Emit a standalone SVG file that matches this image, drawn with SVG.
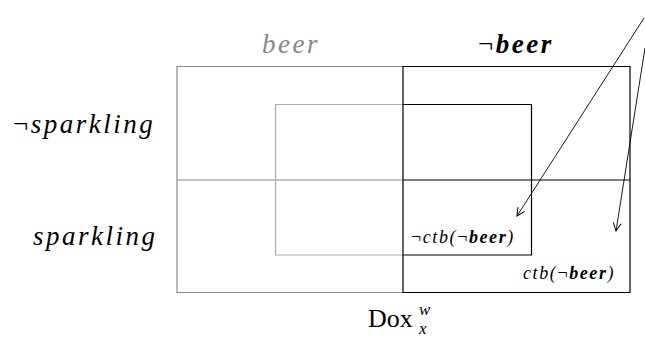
<svg xmlns="http://www.w3.org/2000/svg" width="645" height="339" viewBox="0 0 645 339">
<defs>
<style>
text{font-family:'Liberation Serif','Times New Roman',serif;fill:#000}
.lbl{font-style:italic;font-size:27px;letter-spacing:2.5px}
.sm{font-style:italic;font-size:18px;letter-spacing:1.6px}
.b{font-weight:bold}
.n{font-style:normal}
.g1{stroke:#8a8a8a;fill:none;stroke-width:1.2}
.g2{stroke:#ababab;fill:none;stroke-width:1.2}
.k{stroke:#000;fill:none;stroke-width:1.2}
.arr{stroke:#000;fill:none;stroke-width:0.9;marker-end:url(#ah)}
</style>
<marker id="ah" viewBox="0 0 10 10" refX="9" refY="5" markerWidth="10" markerHeight="10" markerUnits="userSpaceOnUse" orient="auto">
<path d="M1,1 L9,5 L1,9" fill="none" stroke="#000" stroke-width="1"/>
</marker>
</defs>
<rect width="645" height="339" fill="#fff"/>
<g id="region-beer">
<path class="g1" d="M403,66.5 H177 V292.5 H403"/>
<path class="g1" d="M177,180 H403"/>
</g>
<g id="region-inner-beer">
<path class="g2" d="M403,104.5 H275.5 V255 H403"/>
</g>
<g id="region-notbeer">
<path class="k" d="M403,66.5 H630 V292.5 H403 Z"/>
<path class="k" d="M403,180 H630" stroke-width="1.8"/>
</g>
<g id="region-inner-notbeer">
<path class="k" d="M403,104.5 H531.5 V255 H403"/>
</g>
<g id="labels">
<text class="lbl" x="262" y="53" style="fill:#888">beer</text>
<text class="lbl" x="478" y="53"><tspan class="n">¬</tspan><tspan class="b">beer</tspan></text>
<text class="lbl" x="13" y="133"><tspan class="n">¬</tspan>sparkling</text>
<text class="lbl" x="33" y="245">sparkling</text>
<text class="sm" x="411" y="243"><tspan class="n">¬</tspan>ctb(<tspan class="n">¬</tspan><tspan class="b">beer</tspan>)</text>
<text class="sm" x="523" y="279">ctb(<tspan class="n">¬</tspan><tspan class="b">beer</tspan>)</text>
<text x="368" y="327" style="font-size:26px">Dox</text>
<text x="419" y="315" style="font-style:italic;font-size:17px">w</text>
<text x="419" y="334" style="font-style:italic;font-size:17px">x</text>
</g>
<g id="connectors">
<line class="arr" x1="644" y1="18" x2="517" y2="216"/>
<line class="arr" x1="645" y1="48" x2="616" y2="231"/>
</g>
</svg>
